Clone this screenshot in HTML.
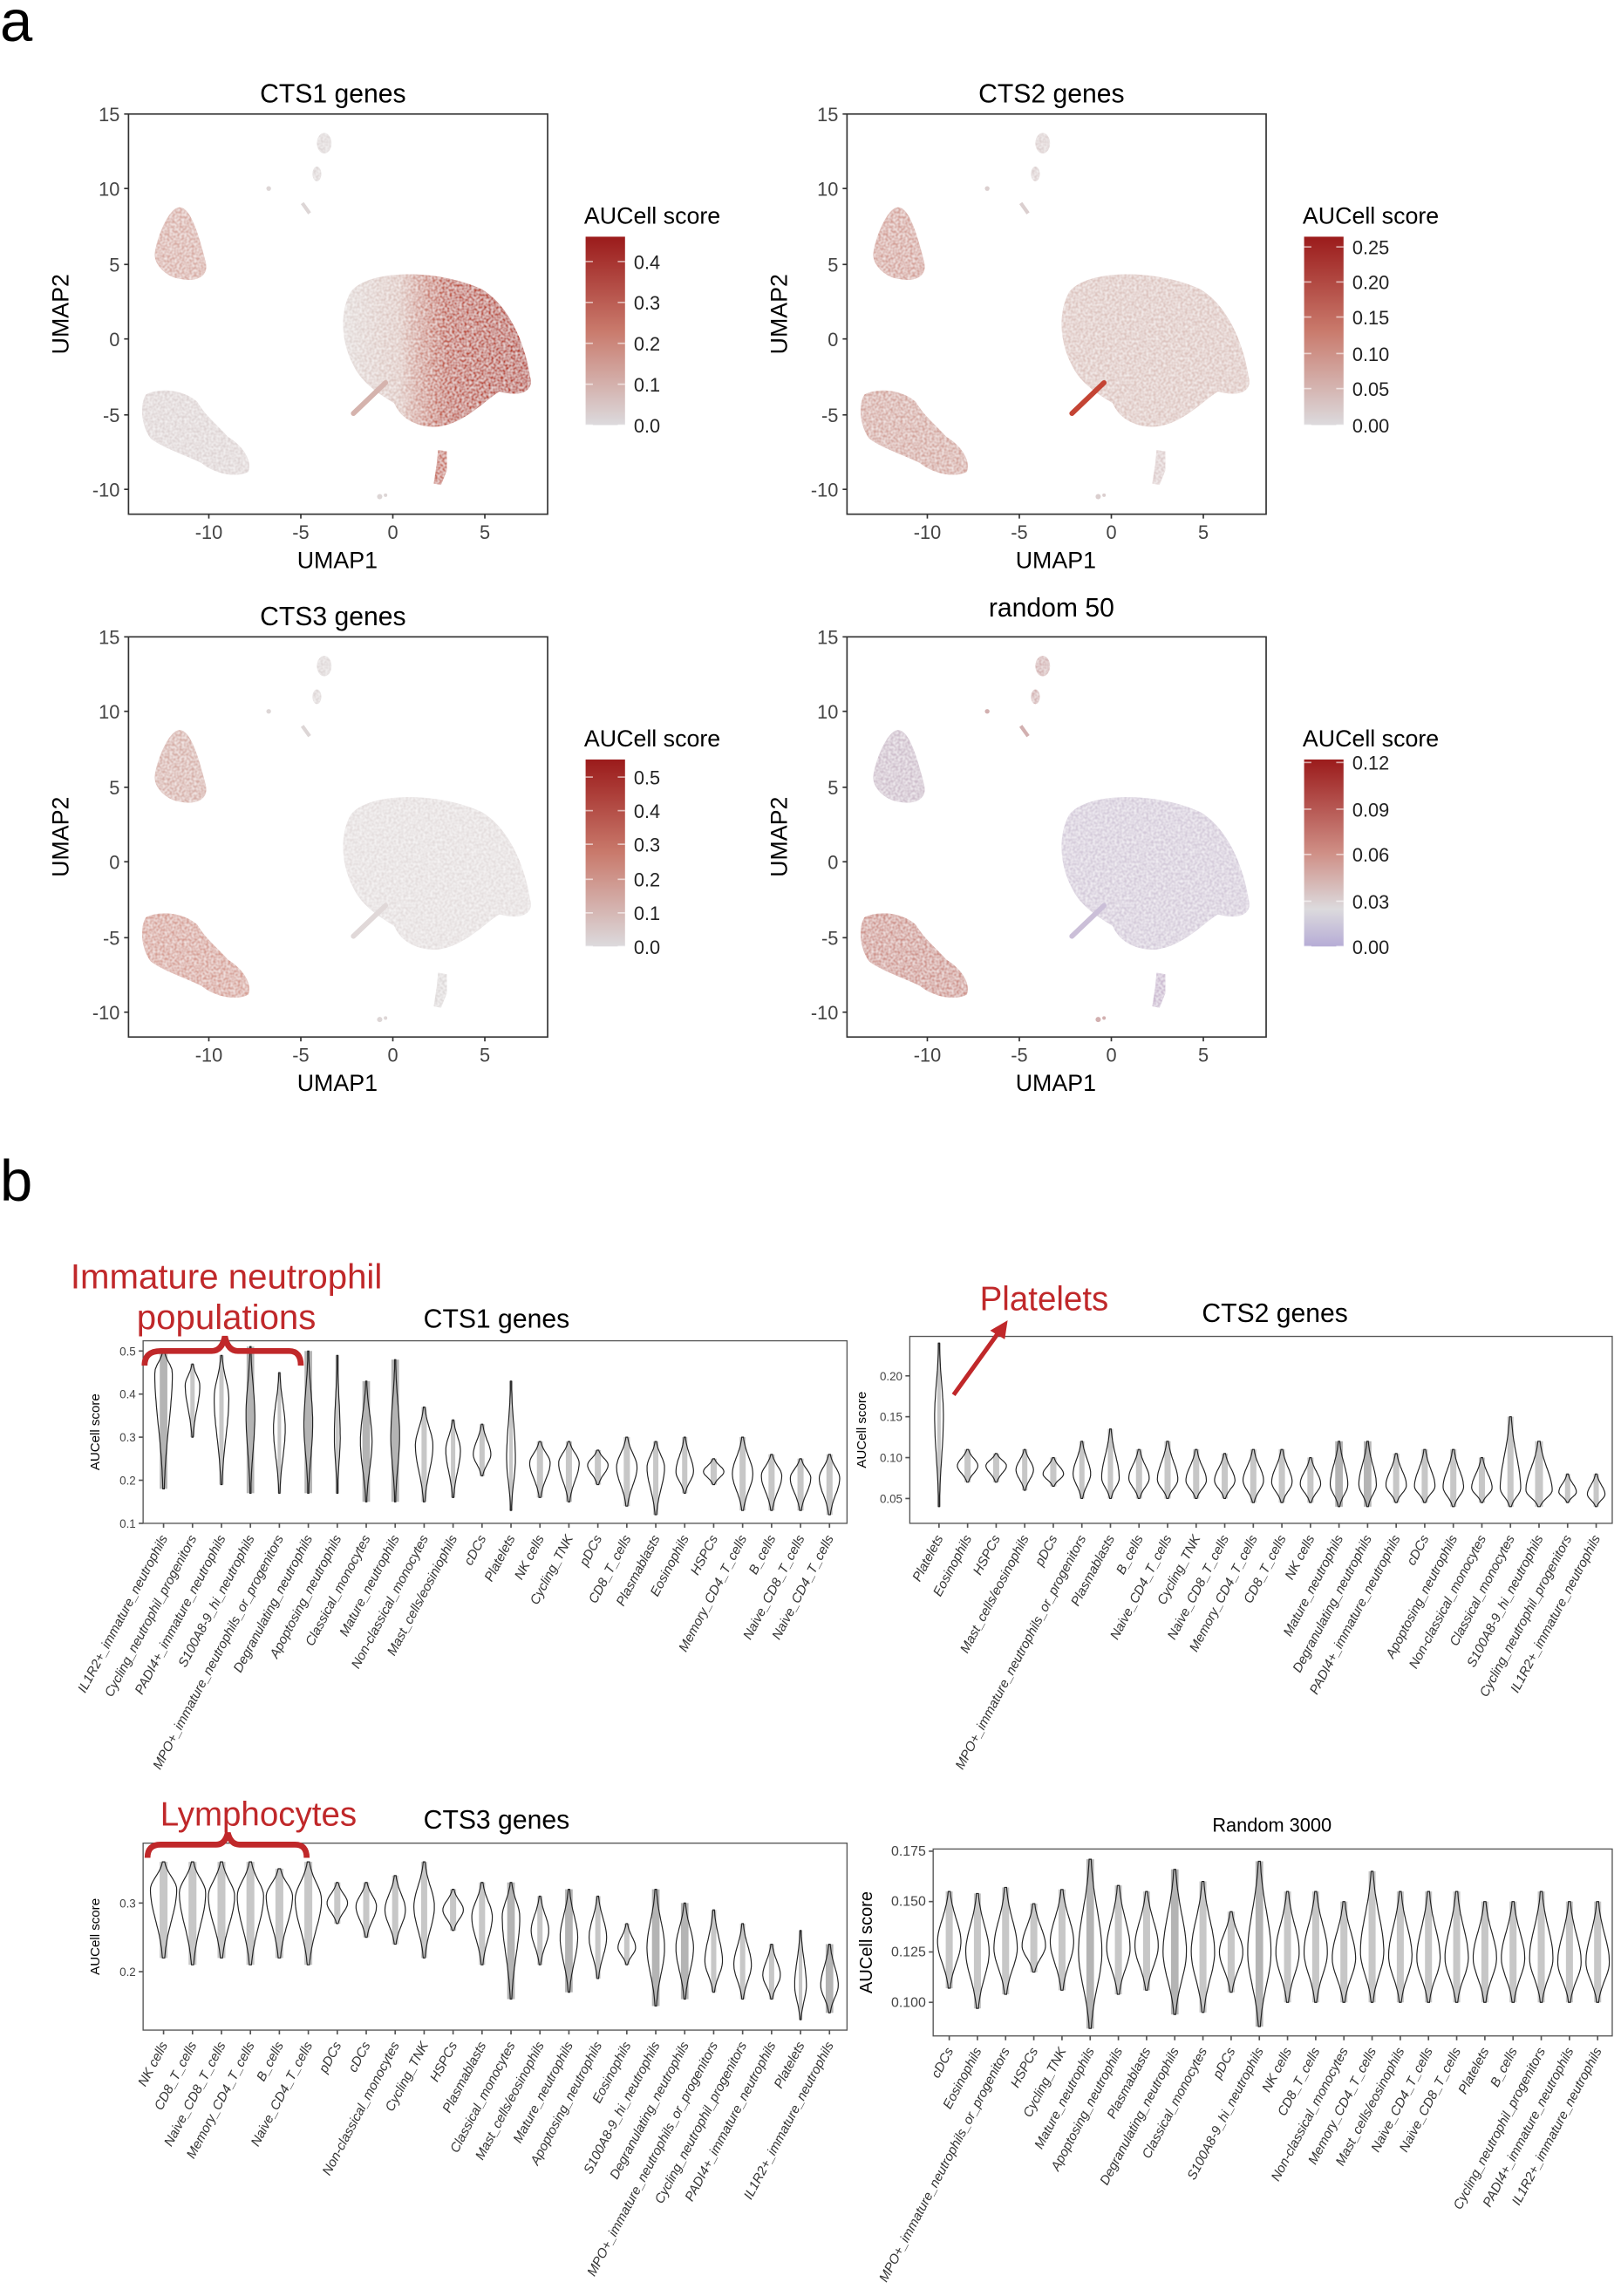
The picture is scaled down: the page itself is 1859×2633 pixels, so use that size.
<!DOCTYPE html>
<html><head><meta charset="utf-8"><style>
html,body{margin:0;padding:0;background:#fff}
svg{display:block}
text{font-family:"Liberation Sans","DejaVu Sans",sans-serif}
</style></head><body>
<svg id="s" width="1859" height="2633" viewBox="0 0 1110 1572" xmlns="http://www.w3.org/2000/svg">
<defs>
<linearGradient id="g1" x1="0" y1="0" x2="0" y2="1"><stop offset="0" stop-color="#9b1b1b"/><stop offset="0.5" stop-color="#c97a6c"/><stop offset="1" stop-color="#dcdadd"/></linearGradient>
<linearGradient id="g4" x1="0" y1="0" x2="0" y2="1"><stop offset="0" stop-color="#9b1b1b"/><stop offset="0.5" stop-color="#cf8f86"/><stop offset="0.8" stop-color="#dcdadd"/><stop offset="1" stop-color="#b6acd6"/></linearGradient>
<linearGradient id="bigc1" x1="0" y1="0" x2="1" y2="0"><stop offset="0" stop-color="#e0d8d6"/><stop offset="0.3" stop-color="#dcc3bd"/><stop offset="0.55" stop-color="#bd5443"/><stop offset="1" stop-color="#b33420"/></linearGradient>
<filter id="spk"><feTurbulence type="fractalNoise" baseFrequency="0.6" numOctaves="1" result="n"/><feColorMatrix in="n" type="matrix" values="0 0 0 0 1 0 0 0 0 1 0 0 0 0 1 0 0 0 -1.2 0.9" result="m"/><feComposite in="m" in2="SourceGraphic" operator="in" result="c"/><feMerge><feMergeNode in="SourceGraphic"/><feMergeNode in="c"/></feMerge></filter>
</defs>
<text x="0" y="28" font-size="40">a</text>
<text x="0" y="822" font-size="40">b</text>
<g id="umaps"></g>
<g id="viol"></g>
<text x="155" y="882" font-size="24" fill="#c0282a" text-anchor="middle">Immature neutrophil</text>
<text x="155" y="910" font-size="24" fill="#c0282a" text-anchor="middle">populations</text>
<path d="M99,935 Q99,925 110,925 L145,925 Q152,925 154,915 Q156,925 163,925 L198,925 Q206,925 206,935" fill="none" stroke="#c0282a" stroke-width="4"/>
<text x="715" y="897" font-size="23" fill="#c0282a" text-anchor="middle">Platelets</text>
<line x1="653" y1="955" x2="684" y2="912" stroke="#c0282a" stroke-width="3"/>
<polygon points="690,904 678,911 688,917" fill="#c0282a"/>
<text x="177" y="1250" font-size="23" fill="#c0282a" text-anchor="middle">Lymphocytes</text>
<path d="M101,1272 Q101,1263 110,1263 L148,1263 Q154,1263 156,1255 Q158,1263 164,1263 L202,1263 Q210,1263 210,1272" fill="none" stroke="#c0282a" stroke-width="4"/>
</svg>
<script>
var NS="http://www.w3.org/2000/svg";
function el(p,t,a,txt){var e=document.createElementNS(NS,t);for(var k in a)e.setAttribute(k,a[k]);if(txt!==undefined)e.textContent=txt;p.appendChild(e);return e;}
var U=document.getElementById("umaps");
var panels=[
 {dx:0,dy:0,title:"CTS1 genes",big:"url(#bigc1)",tl:"#d7aaa2",bl:"#ddd3d3",ts:"#ddd6d6",bs:"#c46656",tail:"#d5b3ad",grad:"url(#g1)",ticks:[["0.4",179],["0.3",207],["0.2",235],["0.1",263],["0.0",291]],bar:[162,291]},
 {dx:492,dy:0,title:"CTS2 genes",big:"#dcc3be",tl:"#d39f96",bl:"#d3a49c",ts:"#dbcfcf",bs:"#dccaca",tail:"#c44434",grad:"url(#g1)",ticks:[["0.25",169],["0.20",193],["0.15",217],["0.10",242],["0.05",266],["0.00",291]],bar:[162,291]},
 {dx:0,dy:358,title:"CTS3 genes",big:"#e3dddd",tl:"#d5ada6",bl:"#d59d93",ts:"#ddd6d6",bs:"#ddd8d8",tail:"#e0d8d8",grad:"url(#g1)",ticks:[["0.5",532],["0.4",555],["0.3",578],["0.2",602],["0.1",625],["0.0",648]],bar:[520,648]},
 {dx:492,dy:358,title:"random 50",big:"#d3c9d9",tl:"#cdbdcb",bl:"#cd9189",ts:"#d2b0b0",bs:"#c9b7cf",tail:"#cbbfd8",grad:"url(#g4)",ticks:[["0.12",522],["0.09",554],["0.06",585],["0.03",617],["0.00",648]],bar:[520,648],tt:-6}
];
panels.forEach(function(p){
 var g=el(U,"g",{transform:"translate("+p.dx+","+p.dy+")"});
 el(g,"text",{x:228,y:70+(p.tt||0),"font-size":18,"text-anchor":"middle"},p.title);
 var b=el(g,"g",{filter:"url(#spk)"});
 el(b,"path",{d:"M240,200 C252,184 300,184 330,198 C350,210 360,238 363,258 C366,268 356,272 342,268 C332,274 318,290 300,292 C285,293 274,286 270,276 C262,271 248,263 242,250 C234,235 232,215 240,200 Z",fill:p.big});
 el(b,"path",{d:"M122,142 C130,140 136,160 141,180 C143,190 133,193 124,191 C114,190 105,181 106,173 C108,160 116,143 122,142 Z",fill:p.tl});
 el(b,"path",{d:"M100,270 C110,265 126,267 135,275 C141,285 150,292 156,299 C166,305 173,315 170,323 C160,328 145,323 138,317 C128,312 110,306 103,300 C96,290 96,276 100,270 Z",fill:p.bl});
 el(b,"ellipse",{cx:222,cy:98,rx:5,ry:7,fill:p.ts});
 el(b,"ellipse",{cx:217,cy:119,rx:3,ry:5,fill:p.ts});
 el(b,"path",{d:"M300,308 L306,309 L306,322 L302,332 L297,331 L299,318 Z",fill:p.bs});
 el(g,"line",{x1:264,y1:262,x2:242,y2:283,stroke:p.tail,"stroke-width":3.5,"stroke-linecap":"round"});
 el(g,"line",{x1:207,y1:139,x2:212,y2:146,stroke:p.ts,"stroke-width":2.5});
 el(g,"circle",{cx:184,cy:129,r:1.6,fill:p.ts});
 el(g,"circle",{cx:260,cy:340,r:1.8,fill:p.ts});el(g,"circle",{cx:264,cy:339,r:1.2,fill:p.ts});
 el(g,"rect",{x:88,y:78,width:287,height:274,fill:"none",stroke:"#333","stroke-width":1});
 [["15",78],["10",129],["5",181],["0",232],["-5",284],["-10",335]].forEach(function(t){
  el(g,"line",{x1:85,y1:t[1],x2:88,y2:t[1],stroke:"#333"});
  el(g,"text",{x:82,y:t[1]+5,"font-size":13,"text-anchor":"end",fill:"#444"},t[0]);});
 [["-10",143],["-5",206],["0",269],["5",332]].forEach(function(t){
  el(g,"line",{x1:t[1],y1:352,x2:t[1],y2:355,stroke:"#333"});
  el(g,"text",{x:t[1],y:369,"font-size":13,"text-anchor":"middle",fill:"#444"},t[0]);});
 el(g,"text",{x:231,y:389,"font-size":16,"text-anchor":"middle"},"UMAP1");
 el(g,"text",{x:0,y:0,"font-size":16,"text-anchor":"middle",transform:"translate(47,215) rotate(-90)"},"UMAP2");
 var lg=el(g,"g",{transform:"translate(0,"+(-p.dy)+")"});
 el(lg,"text",{x:400,y:p.bar[0]-9,"font-size":16},"AUCell score");
 el(lg,"rect",{x:401,y:p.bar[0],width:27,height:p.bar[1]-p.bar[0],fill:p.grad});
 p.ticks.forEach(function(t){
  el(lg,"line",{x1:401,y1:t[1],x2:406,y2:t[1],stroke:"#fff","stroke-opacity":0.6});
  el(lg,"line",{x1:423,y1:t[1],x2:428,y2:t[1],stroke:"#fff","stroke-opacity":0.6});
  el(lg,"text",{x:434,y:t[1]+5,"font-size":13,fill:"#222"},t[0]);});
});
var V=document.getElementById("viol");
function violin(cfg){
 var g=el(V,"g",{});
 el(g,"rect",{x:cfg.x0,y:cfg.y0,width:cfg.x1-cfg.x0,height:cfg.y1-cfg.y0,fill:"none",stroke:"#555","stroke-width":0.8});
 el(g,"text",{x:cfg.tx,y:cfg.ty,"font-size":cfg.tfs||18,"text-anchor":"middle"},cfg.title);
 el(g,"text",{x:0,y:0,"font-size":cfg.lfs||9,"text-anchor":"middle",transform:"translate("+(cfg.x0-(cfg.lx||30))+","+((cfg.y0+cfg.y1)/2)+") rotate(-90)"},"AUCell score");
 function Y(v){return cfg.ya+(v-cfg.va)*(cfg.yb-cfg.ya)/(cfg.vb-cfg.va);}
 cfg.yt.forEach(function(t){var y=Y(parseFloat(t));
  el(g,"line",{x1:cfg.x0-3,y1:y,x2:cfg.x0,y2:y,stroke:"#555"});
  el(g,"text",{x:cfg.x0-5,y:y+3,"font-size":cfg.tkfs||8,"text-anchor":"end",fill:"#444"},t);});
 var n=cfg.d.length, step=(cfg.last-cfg.first)/(n-1);
 cfg.d.forEach(function(d,i){
  var x=cfg.first+i*step, m=d[1],lo=d[2],hi=d[3],w=d[4],dense=d[5];
  el(g,"line",{x1:x,y1:cfg.y1,x2:x,y2:cfg.y1+3,stroke:"#555"});
  var pw=dense?2.6:Math.max(1.2,w*0.3);
  el(g,"rect",{x:x-pw,y:Y(hi),width:2*pw,height:Y(lo)-Y(hi),fill:"#b4b4b4",opacity:dense?1:0.75});
  var L=[],R=[],N=30;
  for(var k=0;k<=N;k++){var v=hi-(hi-lo)*k/N;
   var s=(v>m)?(hi-m)*0.45:(m-lo)*0.45; var z=(v-m)/(s||0.01);
   var ww=Math.max(0.4,w*Math.exp(-z*z/2)); var y=Y(v);
   L.push((x-ww).toFixed(1)+","+y.toFixed(1)); R.unshift((x+ww).toFixed(1)+","+y.toFixed(1));}
  el(g,"path",{d:"M"+L.join(" L")+" L"+R.join(" L")+"Z",fill:"none",stroke:"#222","stroke-width":0.7});
  el(g,"text",{x:0,y:0,"font-size":9,"font-style":"italic","text-anchor":"end",fill:"#333",transform:"translate("+(x+3)+","+(cfg.y1+10)+") rotate(-62)"},d[0]);
 });
}
violin({x0:98,x1:580,y0:918,y1:1043,title:"CTS1 genes",tx:340,ty:909,ya:925,va:0.5,yb:1043,vb:0.1,yt:["0.5","0.4","0.3","0.2","0.1"],first:112,last:568,d:[
["IL1R2+_immature_neutrophils",.45,.18,.5,6,1],["Cycling_neutrophil_progenitors",.42,.30,.47,5],["PADI4+_immature_neutrophils",.39,.19,.49,5],["S100A8-9_hi_neutrophils",.35,.17,.51,3,1],["MPO+_immature_neutrophils_or_progenitors",.32,.17,.45,4],["Degranulating_neutrophils",.33,.17,.50,3,1],["Apoptosing_neutrophils",.30,.17,.49,2],["Classical_monocytes",.29,.15,.43,4,1],["Mature_neutrophils",.30,.15,.48,3,1],["Non-classical_monocytes",.28,.15,.37,6],["Mast_cells/eosiniophils",.27,.16,.34,5],["cDCs",.26,.21,.33,6],["Platelets",.25,.13,.43,3],["NK cells",.24,.16,.29,7],["Cycling_TNK",.24,.15,.29,7],["pDCs",.235,.19,.27,7],["CD8_T_cells",.23,.14,.30,7],["Plasmablasts",.23,.12,.29,6],["Eosinophils",.22,.17,.30,6],["HSPCs",.22,.19,.25,7],["Memory_CD4_T_cells",.215,.13,.30,7],["B_cells",.21,.13,.26,7],["Naive_CD8_T_cells",.205,.13,.25,7],["Naive_CD4_T_cells",.205,.12,.26,7]]});
violin({x0:623,x1:1104,y0:915,y1:1043,title:"CTS2 genes",tx:873,ty:905,ya:942,va:0.20,yb:1026,vb:0.05,yt:["0.20","0.15","0.10","0.05"],first:643,last:1093,d:[
["Platelets",.15,.04,.24,3],["Eosinophils",.09,.07,.11,7],["HSPCs",.09,.07,.105,7],["Mast_cells/eosinophils",.085,.06,.11,6],["pDCs",.08,.065,.10,7],["MPO+_immature_neutrophils_or_progenitors",.08,.05,.12,6],["Plasmablasts",.075,.05,.135,6],["B_cells",.075,.05,.11,7],["Naive_CD4_T_cells",.073,.05,.12,7],["Cycling_TNK",.072,.05,.11,7],["Naive_CD8_T_cells",.072,.05,.105,7],["Memory_CD4_T_cells",.072,.045,.11,7],["CD8_T_cells",.07,.045,.11,7],["NK cells",.068,.045,.10,7],["Mature_neutrophils",.067,.04,.12,6,1],["Degranulating_neutrophils",.067,.04,.12,6,1],["PADI4+_immature_neutrophils",.066,.045,.105,7],["cDCs",.065,.045,.11,7],["Apoptosing_neutrophils",.064,.04,.11,7],["Non-classical_monocytes",.063,.045,.10,7],["Classical_monocytes",.062,.04,.15,7],["S100A8-9_hi_neutrophils",.06,.04,.12,9],["Cycling_neutrophil_progenitors",.058,.045,.08,6],["IL1R2+_immature_neutrophils",.055,.04,.08,6]]});
violin({x0:98,x1:580,y0:1262,y1:1390,title:"CTS3 genes",tx:340,ty:1252,ya:1303,va:0.3,yb:1350,vb:0.2,yt:["0.3","0.2"],first:112,last:568,d:[
["NK cells",.32,.22,.36,9],["CD8_T_cells",.315,.21,.36,9],["Naive_CD8_T_cells",.31,.22,.36,9],["Memory_CD4_T_cells",.31,.21,.36,9],["B_cells",.31,.22,.35,9],["Naive_CD4_T_cells",.305,.21,.36,9],["pDCs",.30,.27,.33,7],["cDCs",.295,.25,.33,7],["Non-classical_monocytes",.29,.24,.34,7],["Cycling_TNK",.295,.22,.36,7],["HSPCs",.29,.26,.32,7],["Plasmablasts",.28,.21,.33,7],["Classical_monocytes",.28,.16,.33,6,1],["Mast_cells/eosinophils",.26,.21,.31,6],["Mature_neutrophils",.25,.17,.32,6,1],["Apoptosing_neutrophils",.25,.19,.31,6],["Eosinophils",.235,.21,.27,6],["S100A8-9_hi_neutrophils",.235,.15,.32,6,1],["Degranulating_neutrophils",.235,.16,.30,6,1],["MPO+_immature_neutrophils_or_progenitors",.215,.17,.29,6],["Cycling_neutrophil_progenitors",.21,.16,.27,6],["PADI4+_immature_neutrophils",.195,.16,.24,6],["Platelets",.18,.13,.26,4],["IL1R2+_immature_neutrophils",.18,.14,.24,6,1]]});
violin({x0:639,x1:1104,y0:1266,y1:1394,lx:42,lfs:12,tkfs:9.5,title:"Random 3000",tfs:13,tx:871,ty:1254,ya:1302,va:0.150,yb:1371,vb:0.100,yt:["0.175","0.150","0.125","0.100"],first:650,last:1094,d:[
["cDCs",.13,.107,.155,8],["Eosinophils",.125,.097,.154,8],["MPO+_immature_neutrophils_or_progenitors",.127,.104,.157,8],["HSPCs",.128,.115,.149,8],["Cycling_TNK",.13,.106,.156,8],["Mature_neutrophils",.125,.087,.171,8,1],["Apoptosing_neutrophils",.127,.104,.158,8],["Plasmablasts",.128,.106,.155,8],["Degranulating_neutrophils",.125,.094,.166,8,1],["Classical_monocytes",.125,.095,.16,8],["pDCs",.125,.105,.145,8],["S100A8-9_hi_neutrophils",.125,.088,.17,8,1],["NK cells",.125,.10,.155,8],["CD8_T_cells",.125,.10,.155,8],["Non-classical_monocytes",.122,.10,.15,8],["Memory_CD4_T_cells",.125,.10,.165,8],["Mast_cells/eosinophils",.123,.10,.155,8],["Naive_CD4_T_cells",.122,.10,.155,8],["Naive_CD8_T_cells",.122,.10,.155,8],["Platelets",.122,.10,.15,8],["B_cells",.122,.10,.15,8],["Cycling_neutrophil_progenitors",.122,.10,.155,8],["PADI4+_immature_neutrophils",.12,.10,.15,8],["IL1R2+_immature_neutrophils",.12,.10,.15,8]]});
</script>
</body></html>
